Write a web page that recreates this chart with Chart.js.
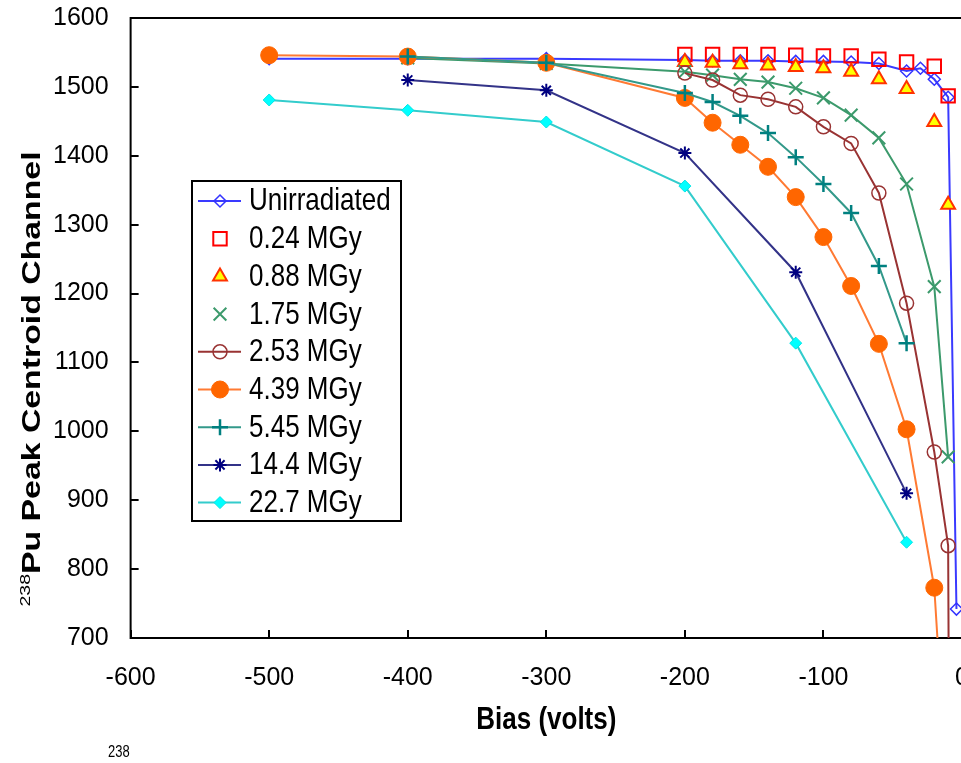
<!DOCTYPE html>
<html><head><meta charset="utf-8">
<script src="https://cdn.jsdelivr.net/npm/chart.js@4.4.1/dist/chart.umd.min.js"></script>
<style>
html,body{margin:0;padding:0;background:#fff;overflow:hidden;width:961px;height:763px;}
#wrap{position:absolute;left:0;top:0;width:1000px;height:763px;}
#cap{position:absolute;left:108px;top:743px;font:13px "Liberation Sans",Arial,sans-serif;color:#000;transform:scaleY(1.2);transform-origin:0 0;}
</style></head><body>
<div id="wrap"><canvas id="c"></canvas></div>
<div id="cap">238</div>
<script>
// ---- data (bias in volts, peak centroid channel) ----
const xTicks = [-600,-500,-400,-300,-200,-100,0];
const yTicks = [700,800,900,1000,1100,1200,1300,1400,1500,1600];

const unirrX = [-500,-400,-300,-200,-180,-160,-140,-120,-100,-80,-60,-40,-30,-20,-10,-4];
const unirrY = [1541,1541,1541,1539,1538,1538,1538,1537,1537,1536,1534,1523,1527,1511,1485,742];

const d024X = [-200,-180,-160,-140,-120,-100,-80,-60,-40,-20,-10];
const d024Y = [1547,1547,1547,1547,1546,1545,1545,1540,1536,1530,1487];

const d088X = [-200,-180,-160,-140,-120,-100,-80,-60,-40,-20,-10];
const d088Y = [1536,1535,1533,1531,1529,1527,1522,1511,1497,1449,1329];

const d175X = [-400,-300,-200,-180,-160,-140,-120,-100,-80,-60,-40,-20,-10];
const d175Y = [1542,1534,1522,1517,1511,1507,1498,1484,1459,1426,1359,1210,963];

const d253X = [-200,-180,-160,-140,-120,-100,-80,-60,-40,-20,-10,-9];
const d253Y = [1520,1510,1488,1482,1471,1442,1418,1346,1186,970,834,400];

const d439X = [-500,-400,-300,-200,-180,-160,-140,-120,-100,-80,-60,-40,-20,-10];
const d439Y = [1546,1544,1535,1484,1448,1416,1384,1340,1282,1211,1127,1003,773,450];

const d545X = [-400,-300,-200,-180,-160,-140,-120,-100,-80,-60,-40];
const d545Y = [1544,1535,1491,1478,1458,1433,1398,1359,1317,1240,1128];

const d144X = [-400,-300,-200,-120,-40];
const d144Y = [1510,1495,1404,1231,910];

const d227X = [-500,-400,-300,-200,-120,-40];
const d227Y = [1481,1466,1449,1356,1128,839];

const seriesLabels = ['Unirradiated','0.24 MGy','0.88 MGy','1.75 MGy','2.53 MGy','4.39 MGy','5.45 MGy','14.4 MGy','22.7 MGy'];
const xTitle = 'Bias (volts)';
const yTitleSup = '238';
const yTitleMain = 'Pu Peak Centroid Channel';

const pts = (xs, ys) => xs.map((x, i) => ({x: x, y: ys[i]}));

const styles = [
  {line:'#3a3aff', pt:'rectRot', r:6,   fill:'rgba(0,0,0,0)', stroke:'#3333ff', bw:1.5, show:true,  legLine:true},
  {line:'#ff0000', pt:'rect',    r:9.5, fill:'rgba(0,0,0,0)', stroke:'#ff0000', bw:2,   show:false, legLine:false},
  {line:'#ff3300', pt:'triangle',r:8,   fill:'#ffff00',       stroke:'#ff3300', bw:2,   show:false, legLine:false},
  {line:'#3c9a6c', pt:'crossRot',r:9,   fill:'rgba(0,0,0,0)', stroke:'#3c9a6c', bw:2,   show:true,  legLine:false},
  {line:'#993333', pt:'circle',  r:7,   fill:'rgba(0,0,0,0)', stroke:'#993333', bw:1.5, show:true,  legLine:true},
  {line:'#ff7a33', pt:'circle',  r:8.5, fill:'#ff6600',       stroke:'#ff6600', bw:1,   show:true,  legLine:true},
  {line:'#33998a', pt:'cross',   r:8,   fill:'rgba(0,0,0,0)', stroke:'#008080', bw:2.5, show:true,  legLine:true},
  {line:'#333388', pt:'star',    r:6.5, fill:'rgba(0,0,0,0)', stroke:'#000080', bw:2,   show:true,  legLine:true},
  {line:'#33cccc', pt:'rectRot', r:6,   fill:'#00ffff',       stroke:'#00e5e5', bw:1,   show:true,  legLine:true}
];
const dataSets = [pts(unirrX,unirrY),pts(d024X,d024Y),pts(d088X,d088Y),pts(d175X,d175Y),pts(d253X,d253Y),pts(d439X,d439Y),pts(d545X,d545Y),pts(d144X,d144Y),pts(d227X,d227Y)];

const datasets = dataSets.map((d, i) => {
  const s = styles[i];
  return {
    label: seriesLabels[i], data: d, showLine: s.show,
    borderColor: s.line, borderWidth: 2, tension: 0,
    pointStyle: s.pt, pointRadius: s.r, pointHoverRadius: s.r,
    pointBackgroundColor: s.fill, pointBorderColor: s.stroke, pointBorderWidth: s.bw,
    order: 8 - i
  };
});

const tickFont = { family: '"Liberation Sans", Arial, sans-serif', size: 25 };
const tickLH = tickFont.size * 1.2;
const xPad = Math.round(40 - tickLH / 2);

function marker(ctx, st, x, y) {
  const r = st.r;
  ctx.save();
  ctx.lineWidth = st.bw; ctx.strokeStyle = st.stroke; ctx.fillStyle = st.fill;
  ctx.beginPath();
  if (st.pt === 'circle') { ctx.arc(x, y, r, 0, Math.PI*2); ctx.fill(); ctx.stroke(); }
  else if (st.pt === 'rect') { const s = r*Math.SQRT1_2; ctx.rect(x-s, y-s, 2*s, 2*s); ctx.fill(); ctx.stroke(); }
  else if (st.pt === 'rectRot') { ctx.moveTo(x, y-r); ctx.lineTo(x+r, y); ctx.lineTo(x, y+r); ctx.lineTo(x-r, y); ctx.closePath(); ctx.fill(); ctx.stroke(); }
  else if (st.pt === 'triangle') { const a = r*Math.sqrt(3)/2; ctx.moveTo(x, y-r); ctx.lineTo(x+a, y+r/2); ctx.lineTo(x-a, y+r/2); ctx.closePath(); ctx.fill(); ctx.stroke(); }
  else if (st.pt === 'cross') { ctx.moveTo(x, y-r); ctx.lineTo(x, y+r); ctx.moveTo(x-r, y); ctx.lineTo(x+r, y); ctx.stroke(); }
  else if (st.pt === 'crossRot') { const o = r*Math.SQRT1_2; ctx.moveTo(x-o, y-o); ctx.lineTo(x+o, y+o); ctx.moveTo(x-o, y+o); ctx.lineTo(x+o, y-o); ctx.stroke(); }
  else if (st.pt === 'star') { const o = r*Math.SQRT1_2; ctx.moveTo(x, y-r); ctx.lineTo(x, y+r); ctx.moveTo(x-r, y); ctx.lineTo(x+r, y); ctx.moveTo(x-o, y-o); ctx.lineTo(x+o, y+o); ctx.moveTo(x-o, y+o); ctx.lineTo(x+o, y-o); ctx.stroke(); }
  ctx.restore();
}

const framePlugin = {
  id: 'frame',
  beforeDatasetsDraw(chart) {
    const {ctx, chartArea: a, scales} = chart;
    ctx.save();
    ctx.strokeStyle = '#000'; ctx.lineWidth = 2;
    ctx.strokeRect(a.left, a.top, a.right - a.left, a.bottom - a.top);
    ctx.beginPath();
    xTicks.forEach(v => { const px = Math.round(scales.x.getPixelForValue(v)); ctx.moveTo(px, a.bottom); ctx.lineTo(px, a.bottom - 8); });
    yTicks.forEach(v => { const py = Math.round(scales.y.getPixelForValue(v)); ctx.moveTo(a.left, py); ctx.lineTo(a.left + 8, py); });
    ctx.stroke();
    ctx.restore();
  },
  afterDraw(chart) {
    const ctx = chart.ctx;
    const a = chart.chartArea;
    // legend box
    const bx = 192, by = 181, bw = 209, bh = 340, rowH = 37.7, y0 = 201;
    ctx.save();
    ctx.fillStyle = '#fff'; ctx.fillRect(bx, by, bw, bh);
    ctx.strokeStyle = '#000'; ctx.lineWidth = 2; ctx.strokeRect(bx, by, bw, bh);
    seriesLabels.forEach((lab, i) => {
      const st = styles[i]; const y = y0 + i*rowH;
      if (st.legLine) { ctx.strokeStyle = st.line; ctx.lineWidth = 2; ctx.beginPath(); ctx.moveTo(198, y); ctx.lineTo(241, y); ctx.stroke(); }
      marker(ctx, st, 220, y);
      ctx.save();
      ctx.translate(249, y + 1);
      ctx.scale(1, 1.18);
      ctx.font = '26px "Liberation Sans", Arial, sans-serif';
      ctx.textBaseline = 'middle'; ctx.fillStyle = '#000';
      ctx.fillText(lab, 0, 0);
      ctx.restore();
    });
    ctx.restore();

    // x axis title
    ctx.save();
    ctx.translate((a.left + a.right) / 2, 720);
    ctx.scale(1, 1.2);
    ctx.font = 'bold 26px "Liberation Sans", Arial, sans-serif';
    ctx.textAlign = 'center'; ctx.textBaseline = 'middle'; ctx.fillStyle = '#000';
    ctx.fillText(xTitle, 0, 0);
    ctx.restore();

    // y axis title with superscript, stretched along its baseline
    ctx.save();
    ctx.translate(31, 379);
    ctx.rotate(-Math.PI/2);
    ctx.scale(1.3, 1);
    ctx.font = '15px "Liberation Sans", Arial, sans-serif';
    const supW = ctx.measureText(yTitleSup).width;
    ctx.font = 'bold 26px "Liberation Sans", Arial, sans-serif';
    const mainW = ctx.measureText(yTitleMain).width;
    const total = supW + mainW;
    ctx.textBaseline = 'alphabetic'; ctx.fillStyle = '#000';
    ctx.font = '15px "Liberation Sans", Arial, sans-serif';
    ctx.fillText(yTitleSup, -total/2, -1);
    ctx.font = 'bold 26px "Liberation Sans", Arial, sans-serif';
    ctx.fillText(yTitleMain, -total/2 + supW, 9);
    ctx.restore();
  }
};

new Chart(document.getElementById('c'), {
  type: 'scatter',
  data: { datasets: datasets },
  options: {
    responsive: true, maintainAspectRatio: false, animation: false,
    layout: { padding: { left: 31, right: 38, top: 18, bottom: Math.round(763 - 638 - tickLH - 2*xPad) } },
    plugins: { legend: { display: false }, tooltip: { enabled: false } },
    scales: {
      x: {
        type: 'linear', min: -600, max: 0,
        grid: { display: false, drawTicks: false }, border: { display: false },
        ticks: { stepSize: 100, padding: xPad, color: '#000', font: tickFont, callback: v => String(v) }
      },
      y: {
        type: 'linear', min: 700, max: 1600,
        grid: { display: false, drawTicks: false }, border: { display: false },
        ticks: { stepSize: 100, padding: 22, color: '#000', font: tickFont, callback: v => String(v) },
        afterFit: (s) => { s.paddingTop = 15; s.paddingBottom = 15; }
      }
    }
  },
  plugins: [framePlugin]
});
</script>
</body></html>
